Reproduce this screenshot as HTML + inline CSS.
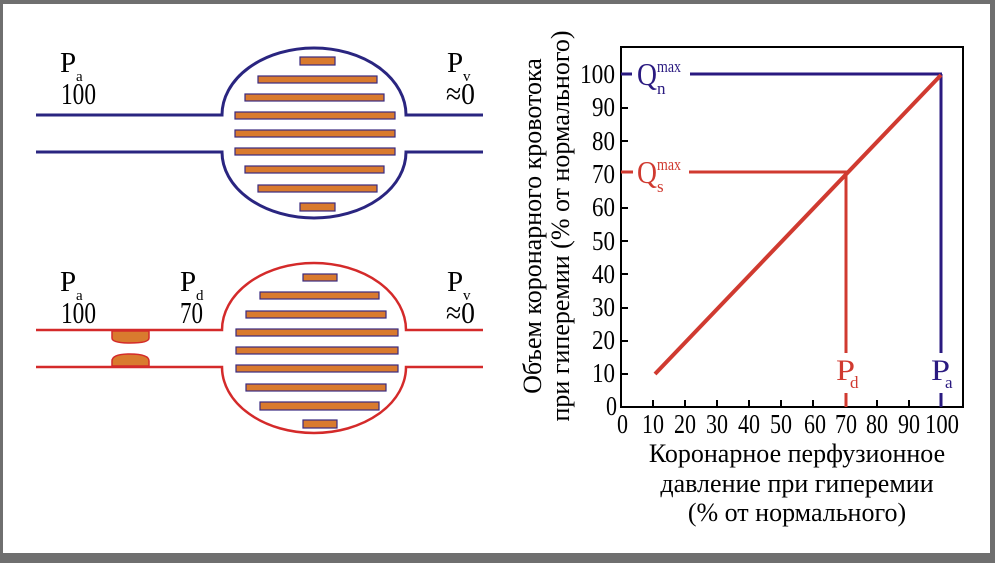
<!DOCTYPE html>
<html><head><meta charset="utf-8"><style>
html,body{margin:0;padding:0;background:#fff}
svg{display:block}
text{font-family:"Liberation Serif",serif}
</style></head><body>
<svg width="995" height="563" viewBox="0 0 995 563" xmlns="http://www.w3.org/2000/svg">
<rect x="0" y="0" width="995" height="563" fill="#6f6f6f"/>
<rect x="3" y="4" width="987" height="549" fill="#fff"/>

<!-- top diagram -->
<g stroke="#2a2580" stroke-width="3" fill="none">
<path d="M36 115 H222 A92 67 0 0 1 406 115 H483"/>
<path d="M36 152 H222 A92 66 0 0 0 406 152 H483"/>
</g>
<g fill="#d97a2e" stroke="#3a2a80" stroke-width="1.2">
<rect x="300" y="57" width="35" height="8"/>
<rect x="258" y="76" width="119" height="7"/>
<rect x="245" y="94" width="139" height="7"/>
<rect x="235" y="112" width="160" height="7"/>
<rect x="235" y="130" width="160" height="7"/>
<rect x="235" y="148" width="160" height="7"/>
<rect x="245" y="166" width="139" height="7"/>
<rect x="258" y="185" width="119" height="7"/>
<rect x="300" y="203" width="35" height="8"/>
</g>
<g fill="#000">
<text x="60" y="72" font-size="29">P</text><text x="76" y="81" font-size="15">a</text>
<text x="61" y="104" font-size="31" textLength="35" lengthAdjust="spacingAndGlyphs">100</text>
<text x="447" y="72" font-size="29">P</text><text x="463" y="81" font-size="15">v</text>
<text x="446" y="104" font-size="31" textLength="29" lengthAdjust="spacingAndGlyphs">≈0</text>
</g>

<!-- bottom diagram -->
<g stroke="#d42a2a" stroke-width="2.5" fill="none">
<path d="M36 330 H222 A92 67 0 0 1 406 330 H483"/>
<path d="M36 367 H222 A92 66 0 0 0 406 367 H483"/>
</g>
<g fill="#d97a2e" stroke="#d42a2a" stroke-width="1.5">
<path d="M112 331 H149 V338 Q149 343 130 343 Q112 343 112 338 Z"/>
<path d="M112 366 H149 V361 Q149 354 130 354 Q112 354 112 361 Z"/>
</g>
<g fill="#d97a2e" stroke="#3a2a80" stroke-width="1.2">
<rect x="303" y="274" width="34" height="7"/>
<rect x="260" y="292" width="119" height="7"/>
<rect x="246" y="311" width="140" height="7"/>
<rect x="236" y="329" width="162" height="7"/>
<rect x="236" y="347" width="162" height="7"/>
<rect x="236" y="365" width="162" height="7"/>
<rect x="246" y="384" width="140" height="7"/>
<rect x="260" y="402" width="119" height="8"/>
<rect x="303" y="420" width="34" height="8"/>
</g>
<g fill="#000">
<text x="60" y="291" font-size="29">P</text><text x="76" y="300" font-size="15">a</text>
<text x="61" y="323" font-size="31" textLength="35" lengthAdjust="spacingAndGlyphs">100</text>
<text x="180" y="291" font-size="29">P</text><text x="196" y="300" font-size="15">d</text>
<text x="180" y="323" font-size="31" textLength="23" lengthAdjust="spacingAndGlyphs">70</text>
<text x="447" y="291" font-size="29">P</text><text x="463" y="300" font-size="15">v</text>
<text x="446" y="323" font-size="31" textLength="29" lengthAdjust="spacingAndGlyphs">≈0</text>
</g>

<!-- chart -->
<rect x="621" y="47" width="342" height="360" fill="none" stroke="#000" stroke-width="2"/>
<g stroke="#000" stroke-width="2">
<line x1="653" y1="407" x2="653" y2="400"/><line x1="685" y1="407" x2="685" y2="400"/>
<line x1="717" y1="407" x2="717" y2="400"/><line x1="749" y1="407" x2="749" y2="400"/>
<line x1="781" y1="407" x2="781" y2="400"/><line x1="813" y1="407" x2="813" y2="400"/>
<line x1="877" y1="407" x2="877" y2="400"/><line x1="909" y1="407" x2="909" y2="400"/>
<line x1="621" y1="374" x2="628" y2="374"/><line x1="621" y1="341" x2="628" y2="341"/>
<line x1="621" y1="308" x2="628" y2="308"/><line x1="621" y1="274" x2="628" y2="274"/>
<line x1="621" y1="241" x2="628" y2="241"/><line x1="621" y1="208" x2="628" y2="208"/>
<line x1="621" y1="141" x2="628" y2="141"/><line x1="621" y1="108" x2="628" y2="108"/>
</g>
<g stroke="#2a1a80" stroke-width="3" fill="none">
<line x1="621" y1="74" x2="632" y2="74"/>
<line x1="690" y1="74" x2="942" y2="74"/>
<line x1="941" y1="74" x2="941" y2="353"/>
<line x1="941" y1="393" x2="941" y2="407"/>
</g>
<g stroke="#d03a30" stroke-width="3" fill="none">
<line x1="621" y1="172" x2="633" y2="172"/>
<line x1="689" y1="172" x2="847" y2="172"/>
<line x1="846" y1="172" x2="846" y2="353"/>
<line x1="846" y1="393" x2="846" y2="407"/>
<line x1="655" y1="374" x2="941" y2="75" stroke-width="4"/>
</g>
<text x="637" y="85" font-size="32" fill="#2a1a80" textLength="20" lengthAdjust="spacingAndGlyphs">Q</text>
<text x="657" y="72" font-size="17" fill="#2a1a80" textLength="24" lengthAdjust="spacingAndGlyphs">max</text>
<text x="657" y="94" font-size="17" fill="#2a1a80">n</text>
<text x="637" y="183" font-size="32" fill="#d03a30" textLength="20" lengthAdjust="spacingAndGlyphs">Q</text>
<text x="657" y="170" font-size="17" fill="#d03a30" textLength="24" lengthAdjust="spacingAndGlyphs">max</text>
<text x="657" y="192" font-size="17" fill="#d03a30">s</text>
<text x="836" y="380" font-size="30" fill="#d03a30" textLength="19" lengthAdjust="spacingAndGlyphs">P</text>
<text x="850" y="388" font-size="17" fill="#d03a30">d</text>
<text x="931" y="380" font-size="30" fill="#2a1a80" textLength="19" lengthAdjust="spacingAndGlyphs">P</text>
<text x="945" y="388" font-size="17" fill="#2a1a80">a</text>

<g font-size="27" fill="#000">
<text x="606" y="415" textLength="11" lengthAdjust="spacingAndGlyphs">0</text>
<text x="592" y="382" textLength="23" lengthAdjust="spacingAndGlyphs">10</text>
<text x="592" y="349" textLength="23" lengthAdjust="spacingAndGlyphs">20</text>
<text x="592" y="316" textLength="23" lengthAdjust="spacingAndGlyphs">30</text>
<text x="592" y="283" textLength="23" lengthAdjust="spacingAndGlyphs">40</text>
<text x="592" y="250" textLength="23" lengthAdjust="spacingAndGlyphs">50</text>
<text x="592" y="216" textLength="23" lengthAdjust="spacingAndGlyphs">60</text>
<text x="592" y="183" textLength="23" lengthAdjust="spacingAndGlyphs">70</text>
<text x="592" y="150" textLength="23" lengthAdjust="spacingAndGlyphs">80</text>
<text x="592" y="116" textLength="23" lengthAdjust="spacingAndGlyphs">90</text>
<text x="580" y="83" textLength="35" lengthAdjust="spacingAndGlyphs">100</text>
</g>
<g font-size="27" fill="#000">
<text x="617" y="433" textLength="11" lengthAdjust="spacingAndGlyphs">0</text>
<text x="642" y="433" textLength="22" lengthAdjust="spacingAndGlyphs">10</text>
<text x="674" y="433" textLength="22" lengthAdjust="spacingAndGlyphs">20</text>
<text x="706" y="433" textLength="22" lengthAdjust="spacingAndGlyphs">30</text>
<text x="738" y="433" textLength="22" lengthAdjust="spacingAndGlyphs">40</text>
<text x="770" y="433" textLength="22" lengthAdjust="spacingAndGlyphs">50</text>
<text x="804" y="433" textLength="22" lengthAdjust="spacingAndGlyphs">60</text>
<text x="835" y="433" textLength="22" lengthAdjust="spacingAndGlyphs">70</text>
<text x="866" y="433" textLength="22" lengthAdjust="spacingAndGlyphs">80</text>
<text x="898" y="433" textLength="22" lengthAdjust="spacingAndGlyphs">90</text>
<text x="925" y="433" textLength="34" lengthAdjust="spacingAndGlyphs">100</text>
</g>
<g font-size="26" fill="#000" text-anchor="middle">
<text x="797" y="462">Коронарное перфузионное</text>
<text x="797" y="492">давление при гиперемии</text>
<text x="797" y="521">(% от нормального)</text>
</g>
<g font-size="26" fill="#000" text-anchor="middle">
<text transform="translate(541,226) rotate(-90)">Объем коронарного кровотока</text>
<text transform="translate(569,226) rotate(-90)">при гиперемии (% от нормального)</text>
</g>
</svg>
</body></html>
